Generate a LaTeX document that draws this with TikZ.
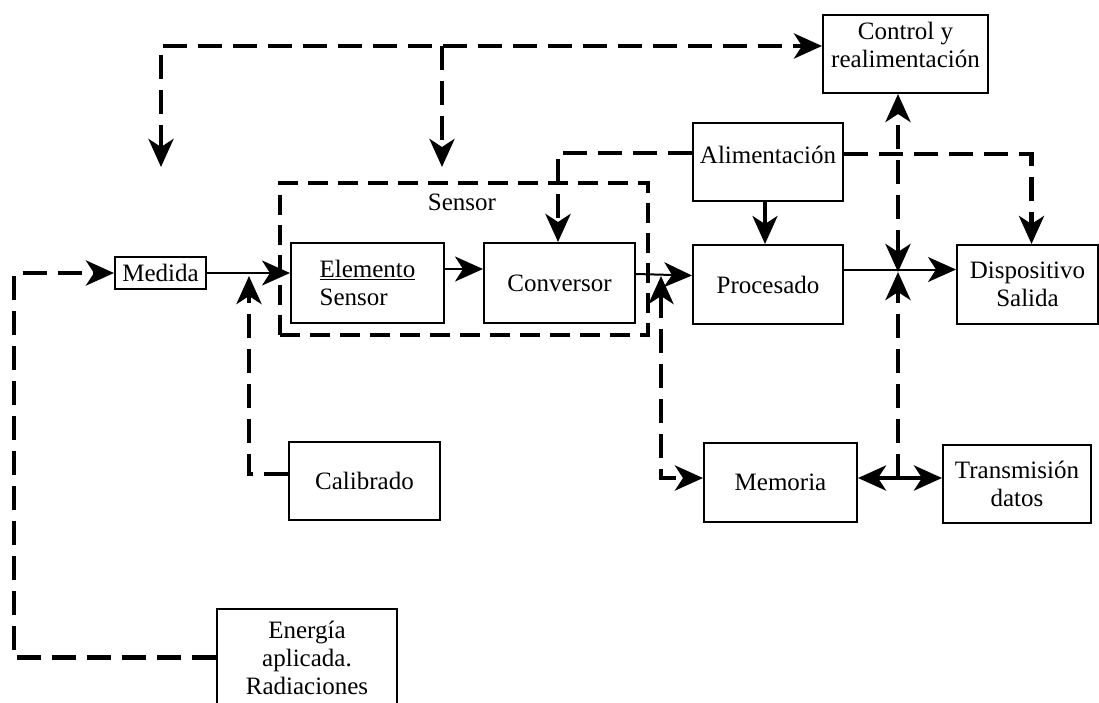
\documentclass[tikz,border=0pt]{standalone}
\usepackage{fontspec}
\newfontfamily\fs{Liberation Serif}
\usetikzlibrary{arrows.meta}
\tikzset{
  box/.style={draw, line width=2pt, inner sep=0pt, align=center, font={\fs\fontsize{25}{28}\selectfont}},
  lbl/.style={inner sep=0pt, font={\fs\fontsize{25}{28}\selectfont}},
  dl/.style={line width=4.5pt, dash pattern=on 24pt off 11pt},
  sl/.style={line width=2pt},
  ml/.style={line width=3.5pt},
  >={Stealth[length=28pt,width=25pt,inset=8pt]}
}
\begin{document}
\begin{tikzpicture}[x=1pt,y=-1pt]
\useasboundingbox (0,0) rectangle (1099,702);
\fill[white] (0,0) rectangle (1099,702);
\clip (0,0) rectangle (1099,702);
% boxes
\node[box, minimum width=165pt, minimum height=78pt,
      label={[lbl, align=center, anchor=north, yshift=-8pt, name=ctrltxt]north:Control y\\realimentación}] (ctrl) at (905.5,54) {};
\node[box, minimum width=91pt, minimum height=32pt] (medida) at (160.5,273) {Medida};
\node[draw, line width=3.5pt, dash pattern=on 20pt off 10pt, minimum width=368pt, minimum height=152pt] (sensorbox) at (464,259) {};
\node[lbl] (sensorlbl) at (462,202) {Sensor};
\node[box, minimum width=153pt, minimum height=80pt, align=left] (elem) at (367.5,283) {\underline{Elemento}\\Sensor};
\node[box, minimum width=151pt, minimum height=80pt] (conv) at (559.5,283) {Conversor};
\node[box, minimum width=150pt, minimum height=78pt,
      label={[lbl, anchor=center, yshift=7pt, name=alimtxt]center:Alimentación}] (alim) at (768,162) {};
\node[box, minimum width=150pt, minimum height=79pt] (proc) at (768,284.5) {Procesado};
\node[box, minimum width=141pt, minimum height=79pt] (disp) at (1027.5,284.5) {Dispositivo\\Salida};
\node[box, minimum width=153pt, minimum height=79pt] (mem) at (780.5,482.5) {Memoria};
\node[box, minimum width=148pt, minimum height=78pt] (trans) at (1017,484) {Transmisión\\datos};
\node[box, minimum width=151pt, minimum height=78pt] (calib) at (364.5,481) {Calibrado};
\node[box, minimum width=180pt, minimum height=97pt] (energ) at (307,657.5) {Energía\\aplicada.\\Radiaciones};
% coordinates
\coordinate (fbL) at (161,167);
\coordinate (fbM) at (442,167);
\coordinate (topL) at (161,46);
\coordinate (topM) at (442,46);
\coordinate (lc) at (14,657.5);
\coordinate (calUp) at (249,276);
\coordinate (jx) at (898,272);
\coordinate (jm) at (898,478);
\coordinate (jc) at (661,276);
% top feedback
\draw[dl,<->] (fbL) -- (topL) -- (topL -| ctrl.west);
\draw[dl,->] (topM) -- (fbM);
% energy to medida
\draw[dl,->] (energ.west) -- (lc) |- (medida.west);
% medida to elemento
\draw[sl,->] (medida.east) -- (medida.east -| elem.west);
% calibrado
\draw[dl,->] ([yshift=7pt]calib.west) -| (calUp);
% elemento to conversor
\draw[sl,->] ([yshift=14pt]elem.east) -- ([yshift=14pt]conv.west);
% conversor to procesado
\draw[sl,->] ([yshift=9pt]conv.east) -- ([yshift=9pt]proc.west);
% alimentacion
\draw[dl,->] ([yshift=9pt]alim.west) -| ([xshift=-1.5pt]conv.north);
\draw[ml,->] ([xshift=-3pt]alim.south) -- ([xshift=-3pt]proc.north);
\draw[dl,->] ([yshift=8pt]alim.east) -| ([xshift=4pt]disp.north);
% procesado to dispositivo
\draw[sl,->] ([yshift=15pt]proc.east) -- ([yshift=15pt]disp.west);
% vertical bus at x=898
\draw[dl,<->] (jx) -- (jx |- ctrl.south);
\draw[dl,->] (jm) -- (jx);
\draw[dl,->] (jm) -- (jm -| mem.east);
\draw[dl,->] (jm) -- (jm -| trans.west);
% memoria left
\draw[dl,<->] (jc) |- ([yshift=4.5pt]mem.west);
\end{tikzpicture}
\end{document}
